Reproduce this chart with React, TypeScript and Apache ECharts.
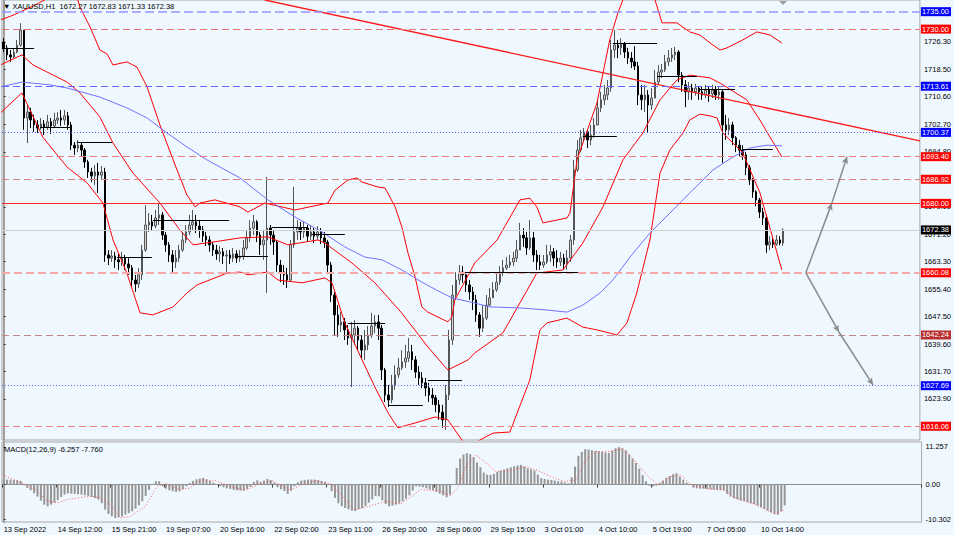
import React, { useEffect, useRef } from "react";
import * as echarts from "echarts";

// ---------- data ----------
const X_LABELS = [
  "13 Sep 2022", "14 Sep 12:00", "15 Sep 21:00", "19 Sep 07:00", "20 Sep 16:00",
  "22 Sep 02:00", "23 Sep 11:00", "26 Sep 20:00", "28 Sep 06:00", "29 Sep 15:00",
  "3 Oct 01:00", "4 Oct 10:00", "5 Oct 19:00", "7 Oct 05:00", "10 Oct 14:00",
];
const X_LABEL_STEP = 16;
const SLOT_COUNT = 272;

const FIRST_OPEN = 1726.3;
const CLOSE = [
  1724.6, 1722.6, 1722.0, 1723.4, 1725.4, 1729.7, 1704.5, 1706.2, 1703.9, 1702.5,
  1701.6, 1702.8, 1701.9, 1703.4, 1702.2, 1703.9, 1704.5, 1703.9, 1705.1, 1702.5,
  1696.7, 1695.9, 1696.7, 1695.3, 1691.9, 1689.0, 1687.9, 1689.0, 1688.1, 1689.0,
  1665.2, 1664.3, 1664.9, 1663.8, 1663.2, 1664.3, 1662.6, 1661.5, 1658.0, 1656.9,
  1659.5, 1666.6, 1673.8, 1674.7, 1673.5, 1675.8, 1676.7, 1670.9, 1668.1, 1665.2,
  1663.2, 1664.3, 1666.6, 1669.5, 1671.8, 1673.8, 1674.7, 1673.5, 1672.4, 1670.6,
  1669.5, 1668.1, 1666.6, 1665.5, 1666.1, 1664.9, 1665.2, 1664.3, 1665.5, 1664.3,
  1664.9, 1667.2, 1670.1, 1672.9, 1674.7, 1670.9, 1668.1, 1669.5, 1672.9, 1670.9,
  1668.9, 1662.3, 1660.3, 1659.5, 1658.0, 1668.1, 1671.8, 1672.9, 1671.8, 1672.9,
  1670.6, 1671.8, 1670.6, 1671.8, 1670.1, 1668.9, 1662.3, 1653.7, 1648.0, 1645.1,
  1646.0, 1643.7, 1641.4, 1642.2, 1644.2, 1640.8, 1637.9, 1639.4, 1642.2, 1644.8,
  1646.0, 1644.2, 1632.2, 1625.0, 1623.6, 1627.9, 1630.8, 1632.8, 1634.5, 1635.6,
  1637.4, 1635.1, 1631.6, 1629.9, 1628.5, 1627.0, 1625.0, 1624.2, 1622.2, 1620.1,
  1617.9, 1625.0, 1640.8, 1653.7, 1658.0, 1660.3, 1659.5, 1656.6, 1654.6, 1652.3,
  1648.0, 1644.2, 1647.1, 1650.8, 1652.9, 1655.2, 1657.4, 1660.3, 1661.5, 1662.3,
  1663.2, 1664.3, 1666.6, 1670.9, 1670.1, 1667.2, 1670.1, 1665.2, 1663.2, 1662.3,
  1663.2, 1665.2, 1666.1, 1664.3, 1663.2, 1664.3, 1662.6, 1664.3, 1669.5, 1689.6,
  1695.3, 1698.8, 1700.5, 1698.2, 1699.6, 1702.5, 1707.4, 1709.7, 1711.1, 1713.1,
  1724.0, 1725.4, 1724.6, 1725.7, 1723.4, 1721.7, 1720.6, 1719.4, 1711.1, 1709.7,
  1711.1, 1708.2, 1710.2, 1714.8, 1717.7, 1718.3, 1720.6, 1721.7, 1722.6, 1723.4,
  1716.8, 1714.0, 1712.0, 1713.1, 1712.0, 1713.1, 1712.0, 1711.1, 1712.5, 1711.4,
  1712.5, 1711.1, 1712.0, 1702.5, 1701.1, 1702.5, 1698.8, 1696.7, 1695.3, 1693.9,
  1690.2, 1686.7, 1683.3, 1681.0, 1677.5, 1675.8, 1668.1, 1668.9, 1668.3, 1669.5,
  1668.6, 1672.38,
];
const HIGH = [
  1727.4, 1725.4, 1724.0, 1724.6, 1726.9, 1731.7, 1729.2, 1708.2, 1707.4, 1705.4,
  1703.9, 1704.5, 1703.9, 1705.4, 1704.5, 1706.0, 1706.2, 1706.8, 1706.8, 1706.2,
  1703.4, 1697.6, 1698.2, 1697.6, 1695.9, 1692.5, 1690.2, 1691.0, 1691.6, 1690.7,
  1690.2, 1666.6, 1666.6, 1666.1, 1665.5, 1666.1, 1665.2, 1664.3, 1662.3, 1659.5,
  1661.5, 1668.1, 1679.5, 1677.2, 1676.7, 1678.1, 1680.1, 1677.5, 1671.8, 1668.9,
  1666.6, 1666.6, 1668.1, 1671.8, 1673.8, 1676.7, 1678.1, 1676.7, 1675.2, 1673.5,
  1671.8, 1670.6, 1668.9, 1668.1, 1667.8, 1667.2, 1666.6, 1666.6, 1667.2, 1666.6,
  1666.6, 1669.5, 1672.4, 1675.2, 1676.7, 1675.2, 1671.8, 1672.4, 1687.6, 1673.8,
  1672.4, 1669.5, 1663.8, 1662.3, 1661.5, 1669.5, 1684.7, 1675.2, 1674.7, 1674.7,
  1673.8, 1673.8, 1672.9, 1673.5, 1672.9, 1671.8, 1669.5, 1663.2, 1654.6, 1650.8,
  1648.8, 1647.1, 1645.1, 1646.0, 1646.5, 1644.8, 1642.2, 1643.7, 1644.8, 1648.6,
  1648.0, 1648.0, 1645.1, 1632.8, 1627.9, 1630.8, 1633.6, 1635.6, 1637.9, 1639.4,
  1641.4, 1639.4, 1636.2, 1633.3, 1631.6, 1629.9, 1628.5, 1627.0, 1625.0, 1623.6,
  1622.2, 1627.9, 1643.7, 1656.6, 1660.3, 1662.3, 1662.0, 1660.3, 1658.0, 1656.0,
  1653.7, 1648.8, 1650.8, 1653.7, 1655.7, 1657.4, 1660.3, 1662.0, 1663.8, 1664.6,
  1665.2, 1666.1, 1669.5, 1674.4, 1672.9, 1671.8, 1675.2, 1671.8, 1666.6, 1665.2,
  1665.2, 1668.1, 1668.1, 1667.2, 1666.6, 1666.1, 1665.5, 1666.6, 1670.9, 1692.5,
  1698.2, 1701.1, 1701.6, 1701.1, 1702.5, 1704.5, 1709.7, 1712.0, 1714.0, 1715.4,
  1726.9, 1729.7, 1726.9, 1727.4, 1726.3, 1724.6, 1723.4, 1725.1, 1720.6, 1714.0,
  1714.0, 1712.5, 1713.1, 1718.3, 1719.7, 1720.0, 1722.6, 1724.0, 1724.6, 1724.9,
  1724.0, 1717.7, 1715.4, 1714.8, 1714.3, 1714.3, 1713.7, 1713.7, 1714.0, 1713.7,
  1714.0, 1713.7, 1713.7, 1712.5, 1705.4, 1704.5, 1703.4, 1699.3, 1698.2, 1696.7,
  1694.7, 1691.0, 1687.3, 1683.8, 1681.6, 1678.7, 1676.7, 1670.6, 1670.1, 1670.9,
  1670.6, 1672.83,
];
const LOW = [
  1723.4, 1721.1, 1720.6, 1721.7, 1723.1, 1724.9, 1701.1, 1697.3, 1701.6, 1700.5,
  1700.2, 1701.1, 1699.6, 1701.1, 1699.9, 1701.6, 1702.8, 1702.2, 1702.5, 1701.1,
  1695.3, 1693.9, 1694.7, 1693.3, 1690.2, 1687.3, 1686.1, 1685.3, 1683.0, 1686.7,
  1663.2, 1662.3, 1663.2, 1661.5, 1660.9, 1662.0, 1660.9, 1659.5, 1656.0, 1654.6,
  1655.7, 1658.0, 1666.1, 1671.8, 1672.1, 1672.9, 1673.8, 1669.5, 1666.1, 1663.2,
  1660.0, 1661.5, 1663.2, 1666.1, 1668.6, 1670.9, 1672.4, 1671.5, 1670.1, 1668.9,
  1667.8, 1666.1, 1664.9, 1663.8, 1663.2, 1662.6, 1660.3, 1662.6, 1663.2, 1662.9,
  1663.2, 1663.8, 1666.6, 1668.9, 1670.9, 1668.9, 1665.2, 1663.8, 1654.3, 1668.1,
  1665.2, 1660.3, 1657.4, 1656.6, 1655.7, 1657.4, 1667.2, 1669.5, 1669.5, 1670.1,
  1668.9, 1669.5, 1668.6, 1669.5, 1668.3, 1667.2, 1660.3, 1651.7, 1642.2, 1641.7,
  1643.1, 1640.8, 1639.4, 1627.3, 1639.4, 1637.9, 1635.6, 1635.1, 1637.9, 1641.4,
  1642.8, 1640.8, 1629.3, 1623.0, 1621.6, 1622.7, 1626.5, 1629.9, 1632.2, 1632.8,
  1634.5, 1632.2, 1629.9, 1627.9, 1627.0, 1624.7, 1623.0, 1622.2, 1620.1, 1617.9,
  1615.6, 1615.0, 1623.6, 1639.4, 1652.3, 1656.6, 1657.2, 1654.6, 1652.3, 1649.4,
  1646.0, 1641.7, 1643.1, 1646.5, 1650.6, 1652.9, 1654.6, 1656.6, 1659.2, 1660.9,
  1661.5, 1662.0, 1663.2, 1666.6, 1667.5, 1665.2, 1666.6, 1663.2, 1660.9, 1660.9,
  1661.5, 1662.6, 1663.2, 1662.0, 1661.5, 1662.0, 1660.9, 1660.9, 1663.2, 1668.1,
  1689.0, 1694.7, 1697.6, 1695.9, 1696.7, 1698.8, 1703.9, 1706.2, 1708.2, 1709.7,
  1712.0, 1721.7, 1721.7, 1722.6, 1721.7, 1720.0, 1718.8, 1718.3, 1708.2, 1706.8,
  1706.2, 1700.2, 1706.8, 1711.1, 1714.0, 1716.0, 1717.7, 1719.4, 1720.6, 1721.1,
  1714.8, 1712.0, 1707.6, 1709.7, 1709.7, 1710.9, 1709.7, 1709.7, 1710.2, 1709.1,
  1710.2, 1709.7, 1709.7, 1691.6, 1698.2, 1699.6, 1696.7, 1694.7, 1693.6, 1692.5,
  1688.1, 1685.3, 1681.6, 1679.2, 1675.8, 1673.8, 1665.8, 1666.6, 1667.2, 1667.8,
  1668.0, 1667.8,
];

// Bollinger bands (upper / middle / lower) and slow MA, as [slot, price]
const BB_UPPER = [
  [-1, 1732.6], [2.8, 1734.0], [8.7, 1736.6], [12.2, 1738.4], [16.7, 1740.6], [21.7, 1739.2],
  [22.6, 1736.3], [25.6, 1730.6], [28.5, 1724.0], [30.6, 1722.9], [32.4, 1719.7], [36.5, 1720.6],
  [39.5, 1719.1], [42.5, 1713.4], [46.3, 1702.5], [50.8, 1691.0], [54.3, 1682.4], [56.7, 1679.0],
  [58.2, 1680.1], [62.6, 1681.0], [70.0, 1679.0], [72.4, 1677.5], [77.4, 1680.1], [86.3, 1678.1],
  [96.1, 1680.1], [98.2, 1683.8], [102.0, 1686.7], [104.7, 1687.3], [106.2, 1686.1], [110.9, 1684.7],
  [113.0, 1684.4], [116.0, 1679.0], [118.0, 1673.2], [119.8, 1665.8], [121.9, 1658.9], [123.9, 1650.3],
  [125.7, 1648.8], [131.6, 1646.0], [132.8, 1647.4], [133.7, 1652.3], [139.6, 1662.9], [146.2, 1669.5],
  [153.0, 1681.0], [155.9, 1681.5], [158.0, 1679.0], [159.8, 1674.4], [166.9, 1675.8], [167.8, 1677.2],
  [169.9, 1692.5], [175.8, 1708.8], [179.6, 1726.9], [182.0, 1734.6], [183.5, 1738.4], [187.0, 1745.5],
  [191.0, 1744.1], [193.0, 1738.4], [195.1, 1731.8], [199.5, 1731.8], [203.3, 1729.2], [206.3, 1728.3],
  [210.2, 1725.4], [212.3, 1724.0], [214.3, 1724.6], [219.0, 1726.9], [223.2, 1729.2], [227.1, 1728.3],
  [230.6, 1726.0],
];
const BB_MIDDLE = [
  [-1, 1719.7], [5.4, 1722.6], [8.7, 1719.7], [18.8, 1714.8], [22.6, 1711.7], [28.5, 1704.8],
  [32.4, 1697.3], [38.3, 1688.7], [46.3, 1680.1], [52.2, 1672.4], [56.1, 1668.1], [62.0, 1668.9],
  [70.0, 1670.1], [78.3, 1670.4], [84.2, 1668.1], [93.1, 1669.5], [95.2, 1668.6], [103.2, 1662.9],
  [110.0, 1657.2], [118.0, 1648.5], [125.7, 1638.8], [131.6, 1632.2], [137.6, 1635.1], [139.6, 1637.1],
  [147.9, 1642.8], [158.0, 1660.0], [165.7, 1660.9], [171.6, 1668.6], [177.6, 1679.0], [183.5, 1692.5],
  [189.4, 1700.2], [194.5, 1709.7], [199.5, 1715.4], [203.3, 1716.8], [209.3, 1716.0], [212.3, 1714.5],
  [220.2, 1709.7], [224.1, 1703.9], [230.6, 1693.3],
];
const BB_LOWER = [
  [-1, 1705.9], [5.4, 1711.7], [7.8, 1706.8], [11.6, 1699.0], [18.8, 1690.4], [24.7, 1685.9],
  [29.4, 1680.1], [32.4, 1669.5], [36.5, 1660.0], [40.4, 1648.6], [44.2, 1648.0], [50.2, 1650.3],
  [54.3, 1654.3], [57.3, 1656.6], [66.2, 1660.0], [70.0, 1660.3], [72.4, 1659.5], [78.3, 1660.3],
  [81.3, 1658.0], [88.4, 1657.2], [95.2, 1658.6], [97.3, 1657.2], [101.1, 1645.7], [106.2, 1635.1],
  [110.0, 1627.3], [113.9, 1619.9], [116.8, 1615.6], [121.9, 1617.0], [127.8, 1618.7], [131.6, 1617.9],
  [135.8, 1612.1], [138.2, 1609.8], [141.1, 1612.1], [145.0, 1614.1], [150.0, 1614.4], [155.9, 1629.3],
  [158.9, 1643.7], [161.0, 1645.7], [166.9, 1647.1], [171.6, 1644.5], [175.8, 1643.7], [179.6, 1642.8],
  [181.7, 1642.2], [184.7, 1645.7], [187.6, 1654.3], [191.5, 1669.5], [194.5, 1688.7], [197.4, 1695.3],
  [201.3, 1700.2], [203.3, 1703.9], [206.3, 1705.6], [209.3, 1705.1], [211.4, 1704.5], [213.1, 1700.2],
  [219.0, 1694.5], [224.1, 1683.0], [230.6, 1660.9],
];
const SLOW_MA = [
  [-1, 1713.4], [5.4, 1714.8], [13.7, 1714.0], [18.8, 1713.1], [28.5, 1710.5], [36.5, 1707.4],
  [42.5, 1704.5], [48.4, 1700.2], [54.3, 1696.2], [60.2, 1692.5], [70.0, 1687.3], [78.3, 1681.0],
  [86.3, 1676.1], [94.3, 1671.8], [101.1, 1667.5], [107.0, 1664.6], [112.1, 1663.8], [118.0, 1660.9],
  [123.9, 1657.4], [129.9, 1654.3], [132.8, 1652.9], [139.6, 1651.4], [144.1, 1650.3], [153.0, 1650.0],
  [161.0, 1649.4], [166.9, 1648.8], [171.6, 1650.8], [176.7, 1654.3], [180.5, 1658.0], [185.6, 1664.6],
  [191.5, 1671.5], [197.4, 1677.2], [203.3, 1683.0], [207.2, 1686.7], [210.2, 1689.6], [216.1, 1693.3],
  [221.1, 1695.9], [226.2, 1696.7], [230.6, 1696.5],
];

// horizontal levels
const LEVEL_VALUES = [1735.0, 1730.0, 1713.61, 1700.37, 1693.4, 1686.92, 1680.0, 1672.38, 1660.08, 1642.24, 1627.69, 1616.06];

// daily reference segments: [fromSlot, toSlot, price]
const DAY_SEGMENTS = [
  [-0.5, 9.0, 1724.6], [10.8, 20.2, 1701.9], [21.7, 32.1, 1697.6], [33.6, 43.9, 1664.6],
  [44.2, 66.8, 1675.2], [68.5, 78.3, 1664.9], [79.5, 89.9, 1673.2], [91.3, 101.1, 1671.2],
  [102.0, 113.0, 1645.7], [113.9, 124.2, 1622.2], [125.7, 135.8, 1629.3], [136.7, 170.2, 1660.3],
  [171.6, 181.7, 1699.3], [180.5, 193.6, 1726.0], [193.6, 205.4, 1716.5], [206.3, 216.7, 1712.8],
  [219.0, 227.9, 1695.6],
];

const TRENDLINE = [[77.4, 1738.35], [271.5, 1697.9]];
const ARROW_UP = [[237.7, 1660.08], [245.4, 1680.0], [249.9, 1693.4]];
const ARROW_DOWN = [[237.7, 1660.08], [247.5, 1643.1], [257.6, 1627.9]];

const PRICE_TICKS = [1726.3, 1718.5, 1710.6, 1702.7, 1694.8, 1686.9, 1679.0, 1671.2, 1663.3, 1655.4, 1647.5, 1639.6, 1631.7, 1623.9];
const PRICE_LABELS = [1726.3, 1718.5, 1710.6, 1702.7, 1694.8, 1679.0, 1671.2, 1663.3, 1655.4, 1647.5, 1639.6, 1631.7, 1623.9];
const PRICE_MIN = 1612.11;
const PRICE_MAX = 1738.35;

const MACD_MAIN = [
  1.5, 1.5, 1.5, 1.4, 1.3, 1.1, -0.2, -1.0, -1.7, -2.6,
  -3.6, -4.8, -6.0, -6.5, -6.0, -5.4, -4.6, -3.7, -3.0, -2.6,
  -2.7, -2.8, -2.9, -3.0, -3.2, -3.4, -3.7, -4.0, -4.5, -5.6,
  -7.5, -8.8, -9.5, -10.0, -9.8, -9.5, -9.0, -8.5, -8.0, -7.2,
  -6.2, -5.0, -3.4, -1.6, 0.1, 1.0, 1.0, -0.5, -1.2, -1.7,
  -2.0, -2.2, -2.0, -1.4, -0.5, 0.5, 1.1, 1.6, 1.8, 2.0,
  1.6, 1.1, 0.6, 0.1, -0.4, -0.8, -1.1, -1.3, -1.6, -1.7,
  -1.8, -1.8, -1.3, -0.7, 0.8, 1.3, 0.8, 1.2, 1.7, 1.4,
  0.6, -0.8, -1.4, -1.9, -2.8, -1.8, -0.5, 0.7, 1.2, 1.4,
  1.5, 1.5, 1.5, 1.3, 1.1, 0.8, 0.1, -2.0, -4.0, -5.6,
  -6.5, -7.0, -7.4, -7.8, -7.9, -7.4, -7.0, -6.4, -5.4, -4.4,
  -3.4, -3.5, -4.7, -5.8, -6.5, -6.3, -6.0, -5.6, -5.0, -4.2,
  -3.2, -1.8, -0.5, -0.6, -0.8, -1.1, -1.4, -1.7, -2.2, -2.7,
  -3.2, -3.8, -3.0, 0.2, 5.0, 7.8, 9.0, 9.4, 9.1, 8.2,
  6.6, 5.2, 3.6, 3.0, 2.9, 3.2, 3.8, 4.2, 4.5, 4.9,
  5.2, 5.5, 5.7, 5.9, 5.4, 4.9, 4.6, 4.2, 3.0, 1.9,
  1.7, 1.5, 1.4, 1.2, 1.0, 0.9, 0.6, 0.4, 2.2, 5.4,
  8.6, 9.8, 10.6, 10.5, 10.3, 10.1, 10.0, 9.8, 9.6, 9.5,
  10.2, 10.9, 11.2, 10.8, 10.2, 9.0, 7.8, 6.5, 4.8, 2.8,
  1.0, -0.3, -0.6, -0.3, 0.5, 1.2, 2.0, 2.6, 3.1, 3.4,
  2.4, 1.5, 0.6, 0.0, -0.9, -1.1, -1.2, -1.2, -1.3, -1.4,
  -1.5, -1.6, -1.7, -1.8, -2.8, -3.6, -4.1, -4.4, -4.8, -5.0,
  -5.3, -5.6, -5.8, -6.3, -6.8, -7.3, -7.8, -8.3, -8.8, -9.0,
  -8.0, -6.257,
];
const MACD_SIGNAL = [
  [-1.1, 3.3], [4.8, 0.7], [9.3, -1.5], [12.8, -4.8], [15.8, -5.5], [18.8, -4.5], [25.6, -3.5],
  [28.5, -3.9], [31.5, -6.0], [34.5, -9.9], [37.4, -9.6], [41.9, -6.5], [45.4, -0.5], [47.8, 0.3],
  [52.2, -1.5], [55.2, -1.0], [58.2, 1.4], [62.6, 1.2], [67.9, -0.8], [71.5, -1.7], [75.9, 0.3],
  [79.5, 1.1], [84.8, -1.7], [87.8, -0.2], [92.2, 1.2], [96.7, 0.3], [101.1, -4.5], [103.5, -7.5],
  [107.0, -6.8], [113.0, -5.0], [117.4, -5.8], [123.3, -1.5], [129.3, -2.0], [132.2, -3.3],
  [134.6, -0.5], [136.7, 5.4], [139.6, 8.9], [142.6, 6.5], [145.6, 3.9], [150.0, 4.2], [154.5, 5.4],
  [158.0, 4.2], [161.9, 2.4], [165.7, 0.9], [169.3, 1.4], [172.2, 7.4], [175.2, 9.9], [179.6, 9.9],
  [183.2, 10.9], [186.5, 7.4], [190.6, 2.4], [193.6, 0.0], [197.4, 2.4], [200.4, 2.9], [203.3, 0.0],
  [208.4, -1.3], [213.1, -1.5], [216.1, -3.8], [223.2, -6.3], [227.9, -8.8], [230.6, -7.76],
];
const MACD_TICKS = [11.257, 0, -10.302];
const MACD_MIN = -11.2;
const MACD_MAX = 12.75;

// ---------- styles ----------
const FONT = "'Liberation Sans Narrow', 'Liberation Sans', Arial, sans-serif";
const FS = 7.5;
const LEVEL_STYLES = [
  { line: "#9494ff", type: [9, 4], width: 1.5, box: "#0000ff" },
  { line: "#ec7272", type: [7, 4], width: 1, box: "#ff0000" },
  { line: "#6464ff", type: [7, 4], width: 1, box: "#0000ff" },
  { line: "#5a5aff", type: [1, 2], width: 1, box: "#0000ff" },
  { line: "#ec7a7a", type: [7, 4], width: 1, box: "#ff0000" },
  { line: "#d98080", type: [7, 4], width: 1, box: "#ff0000" },
  { line: "#ff2a2a", type: "solid", width: 1, box: "#ff0000" },
  { line: "#cfcfcf", type: "solid", width: 1, box: "#000000" },
  { line: "#f5a9a9", type: [8, 4], width: 2, box: "#ff0000" },
  { line: "#c48686", type: [7, 4], width: 1, box: "#b83030" },
  { line: "#6a6aff", type: [1, 2], width: 1, box: "#0000ff" },
  { line: "#f07f7f", type: [7, 4], width: 1, box: "#ff0000" },
];

export default function App() {
  const ref = useRef<HTMLDivElement>(null);

  useEffect(() => {
    if (!ref.current) return;
    const chart = echarts.init(ref.current, null, { renderer: "svg" });

    const slots = Array.from({ length: SLOT_COUNT }, (_, i) => String(i));
    const candles = CLOSE.map((c, i) => {
      const o = i === 0 ? FIRST_OPEN : CLOSE[i - 1];
      const h = Math.max(HIGH[i], o, c);
      const l = Math.min(LOW[i], o, c);
      return [o, c, l, h];
    });
    const showSlot = (idx: number) => idx % X_LABEL_STEP === 0 && idx / X_LABEL_STEP < X_LABELS.length;

    const levelLines = LEVEL_VALUES.map((v, i) => {
      const st = LEVEL_STYLES[i];
      return {
        yAxis: v,
        lineStyle: { color: st.line, type: st.type, width: st.width },
        label: {
          show: true,
          position: "end",
          distance: 1,
          formatter: () => v.toFixed(2),
          backgroundColor: st.box,
          color: "#ffffff",
          fontFamily: FONT,
          fontSize: FS,
          lineHeight: 9,
          padding: [0, 2, 0, 1],
        },
      };
    });

    const segLines = DAY_SEGMENTS.map(([a, b, p]) => [{ coord: [a, p] }, { coord: [b, p] }]);
    const arrowSeg = (pts: number[][]) =>
      pts.slice(1).map((p, k) => [{ coord: pts[k] }, { coord: p }]);

    const axisLabelStyle = { fontFamily: FONT, fontSize: FS, color: "#000" };

    const option: any = {
      animation: false,
      backgroundColor: "#f0f8ff",
      grid: [
        { left: 2, right: 32, top: 0, height: 440, show: true, borderColor: "#a8a8a8", borderWidth: 1 },
        { left: 2, right: 32, top: 442, height: 80, show: true, borderColor: "#a8a8a8", borderWidth: 1 },
      ],
      xAxis: [
        { type: "category", gridIndex: 0, data: slots, boundaryGap: true, axisLine: { show: false }, axisTick: { show: false }, axisLabel: { show: false }, splitLine: { show: false } },
        { type: "value", gridIndex: 0, min: -0.5, max: SLOT_COUNT - 0.5, show: false, splitLine: { show: false } },
        {
          type: "category", gridIndex: 1, data: slots, boundaryGap: true, splitLine: { show: false },
          axisLine: { show: true, lineStyle: { color: "#909090", width: 1 } },
          axisTick: { show: true, interval: (i: number) => showSlot(i), length: 3, lineStyle: { color: "#404040" } },
          axisLabel: {
            show: true, interval: (i: number) => showSlot(i), align: "left", margin: 3,
            formatter: (_v: string, i: number) => X_LABELS[i / X_LABEL_STEP] ?? "",
            ...axisLabelStyle,
          },
        },
        { type: "value", gridIndex: 1, min: -0.5, max: SLOT_COUNT - 0.5, show: false, splitLine: { show: false } },
      ],
      yAxis: [
        {
          type: "value", gridIndex: 0, position: "right", min: PRICE_MIN, max: PRICE_MAX,
          splitLine: { show: false }, minorTick: { show: false },
          axisLine: { show: true, lineStyle: { color: "#a0a0a0", width: 2 } },
          axisTick: { show: true, customValues: PRICE_TICKS, length: 2, lineStyle: { color: "#303030" } },
          axisLabel: { show: true, customValues: PRICE_LABELS, margin: 4, formatter: (v: number) => v.toFixed(2), ...axisLabelStyle },
        },
        {
          type: "value", gridIndex: 1, position: "right", min: MACD_MIN, max: MACD_MAX,
          splitLine: { show: false }, minorTick: { show: false },
          axisLine: { show: true, lineStyle: { color: "#a0a0a0", width: 2 } },
          axisTick: { show: true, customValues: MACD_TICKS, length: 2, lineStyle: { color: "#303030" } },
          axisLabel: {
            show: true, customValues: MACD_TICKS, margin: 4,
            formatter: (v: number) => (v === 0 ? "0.00" : String(v)),
            ...axisLabelStyle,
          },
        },
      ],
      series: [
        {
          type: "line", name: "levels", xAxisIndex: 1, yAxisIndex: 0, data: [], z: 1,
          markLine: { silent: true, symbol: "none", animation: false, data: levelLines },
        },
        {
          type: "candlestick", name: "XAUUSD", xAxisIndex: 0, yAxisIndex: 0, z: 3, barWidth: 2,
          data: candles,
          itemStyle: { color: "#d0d0d0", color0: "#000000", borderColor: "#555555", borderColor0: "#000000", borderWidth: 1 },
        },
        { type: "line", name: "bbU", xAxisIndex: 1, yAxisIndex: 0, data: BB_UPPER, showSymbol: false, clip: true, z: 4, lineStyle: { color: "#ff0000", width: 1 } },
        { type: "line", name: "bbM", xAxisIndex: 1, yAxisIndex: 0, data: BB_MIDDLE, showSymbol: false, clip: true, z: 4, lineStyle: { color: "#ff0000", width: 1 } },
        { type: "line", name: "bbL", xAxisIndex: 1, yAxisIndex: 0, data: BB_LOWER, showSymbol: false, clip: true, z: 4, lineStyle: { color: "#ff0000", width: 1 } },
        { type: "line", name: "ma", xAxisIndex: 1, yAxisIndex: 0, data: SLOW_MA, showSymbol: false, clip: true, z: 4, lineStyle: { color: "#7070ff", width: 1 } },
        { type: "line", name: "trend", xAxisIndex: 1, yAxisIndex: 0, data: TRENDLINE, showSymbol: false, clip: true, z: 4, lineStyle: { color: "#ff1a1a", width: 1.3 } },
        {
          type: "line", name: "segments", xAxisIndex: 1, yAxisIndex: 0, data: [], z: 5,
          markLine: { silent: true, symbol: "none", animation: false, label: { show: false }, lineStyle: { color: "#000000", width: 1, type: "solid" }, data: segLines },
        },
        {
          type: "line", name: "arrows", xAxisIndex: 1, yAxisIndex: 0, data: [], z: 5,
          markLine: {
            silent: true, symbol: ["none", "arrow"], symbolSize: [5, 7], animation: false, label: { show: false },
            lineStyle: { color: "#8a8a8a", width: 1.5, type: "solid" },
            data: [...arrowSeg(ARROW_UP), ...arrowSeg(ARROW_DOWN)],
          },
        },
        {
          type: "bar", name: "MACD", xAxisIndex: 2, yAxisIndex: 1, data: MACD_MAIN, barWidth: 2,
          itemStyle: { color: "#969696" },
        },
        {
          type: "line", name: "Signal", xAxisIndex: 3, yAxisIndex: 1, data: MACD_SIGNAL, showSymbol: false, z: 4,
          lineStyle: { color: "#ff5a5a", width: 1, type: [1, 2] },
        },
      ],
      graphic: [
        {
          type: "text", left: 3, top: 2, z: 100,
          style: { text: "▼ XAUUSD,H1  1672.27 1672.83 1671.33 1672.38", fill: "#000", fontFamily: FONT, fontSize: FS },
        },
        {
          type: "text", left: 4, top: 445, z: 100,
          style: { text: "MACD(12,26,9) -6.257 -7.760", fill: "#000", fontFamily: FONT, fontSize: FS },
        },
        {
          type: "polygon", z: 100,
          shape: { points: [[779, 1], [787, 1], [783, 5]] },
          style: { fill: "#a0a0a0" },
        },
      ],
    };

    chart.setOption(option);
    return () => chart.dispose();
  }, []);

  return <div ref={ref} style={{ position: "absolute", left: 0, top: 0, width: 954, height: 535 }} />;
}
